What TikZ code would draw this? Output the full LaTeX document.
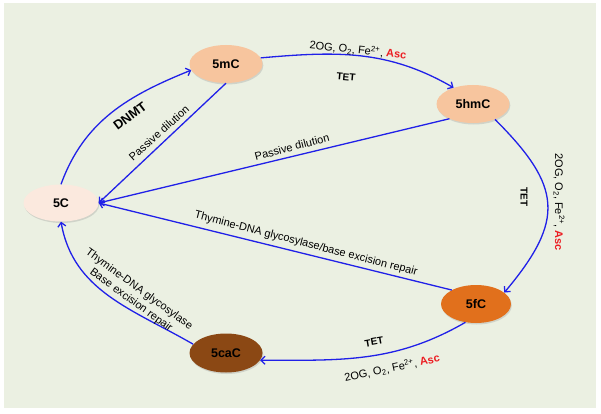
\documentclass[tikz,border=0pt]{standalone}
\usepackage{fontspec}
\setmainfont{Liberation Sans}
\usepackage{xcolor}
\usetikzlibrary{shapes.geometric,arrows.meta,shadows}
\definecolor{bgpale}{RGB}{235,240,226}
\definecolor{lineblue}{RGB}{32,32,232}
\definecolor{peach}{RGB}{247,197,158}
\definecolor{palepink}{RGB}{251,233,222}
\definecolor{orangefc}{RGB}{225,112,28}
\definecolor{browncac}{RGB}{139,72,20}
\definecolor{ascred}{RGB}{235,30,35}
\newcommand{\cofac}{2OG, O\textsubscript{2}, Fe\textsuperscript{2+}, \textcolor{ascred}{\bfseries Asc}}

\begin{document}
\begin{tikzpicture}[x=1pt,y=1pt,
  nucl/.style={ellipse, minimum width=73pt, minimum height=38pt, inner sep=0pt,
    font=\fontsize{12.5}{14}\selectfont\bfseries,
    drop shadow={opacity=0.25, shadow xshift=0.8pt, shadow yshift=-1.5pt}},
  bluearrow/.style={draw=lineblue, line width=1.3pt, -{Straight Barb[length=4pt,width=8pt]}},
  lbl/.style={font=\fontsize{11}{13.5}\selectfont, inner sep=0.5pt},
  enz/.style={font=\fontsize{10}{12}\selectfont\bfseries, inner sep=0.5pt}]

  \useasboundingbox (0,0) rectangle (601,413);
  \fill[white] (0,0) rectangle (601,413);
  \fill[bgpale] (4,5) rectangle (596,410);

  \node[nucl, fill=palepink, minimum width=75pt, minimum height=37pt] (c5) at (61,210) {5C};
  \node[nucl, fill=peach] (c5m) at (226,349) {5mC};
  \node[nucl, fill=peach] (c5hm) at (473,309) {5hmC};
  \node[nucl, fill=orangefc, minimum width=70pt] (c5f) at (476,109) {5fC};
  \node[nucl, fill=browncac, minimum height=39pt] (c5ca) at (226,60) {5caC};

  \draw[bluearrow] (c5.north) to[out=70,in=202] (c5m.190);
  \draw[bluearrow] (c5m.10) to[out=5,in=150] (c5hm.140);
  \draw[bluearrow] (c5hm.-35) to[out=-45,in=50,looseness=1.4] (c5f.22);
  \draw[bluearrow] (c5f.-120) to[out=-150,in=0] (c5ca.-12);
  \draw[bluearrow] (c5ca.165) to[out=150,in=-80] (c5.south);
  \draw[bluearrow] (c5m.south) -- (c5.east);
  \draw[bluearrow] (c5hm.212) -- (c5.east);
  \draw[bluearrow] (c5f.150) -- (c5.east);

  \node[font=\fontsize{13}{15}\selectfont\bfseries, inner sep=0.5pt, rotate=37] (tDNMT) at (130,297) {DNMT};
  \node[lbl, rotate=42] (tPassA) at (159,280) {Passive dilution};
  \node[lbl, rotate=14.5] (tPassB) at (292,266) {Passive dilution};
  \node[lbl, rotate=-14.5] (tTDG) at (306,169) {Thymine-DNA glycosylase/base excision repair};
  \node[lbl, rotate=-36, align=center] (tTDGb) at (135,118) {Thymine-DNA glycosylase\\Base excision repair};

  \node[lbl, rotate=-6] (tCofA) at (358,363) {\cofac};
  \node[enz, rotate=-5] (tTetA) at (346,336) {TET};
  \node[lbl, rotate=-90] (tCofB) at (559,211) {\cofac};
  \node[enz, rotate=-90] (tTetB) at (524,216) {TET};
  \node[enz, rotate=10] (tTetC) at (374,71) {TET};
  \node[lbl, rotate=12] (tCofC) at (392,45) {\cofac};
\end{tikzpicture}
\end{document}
